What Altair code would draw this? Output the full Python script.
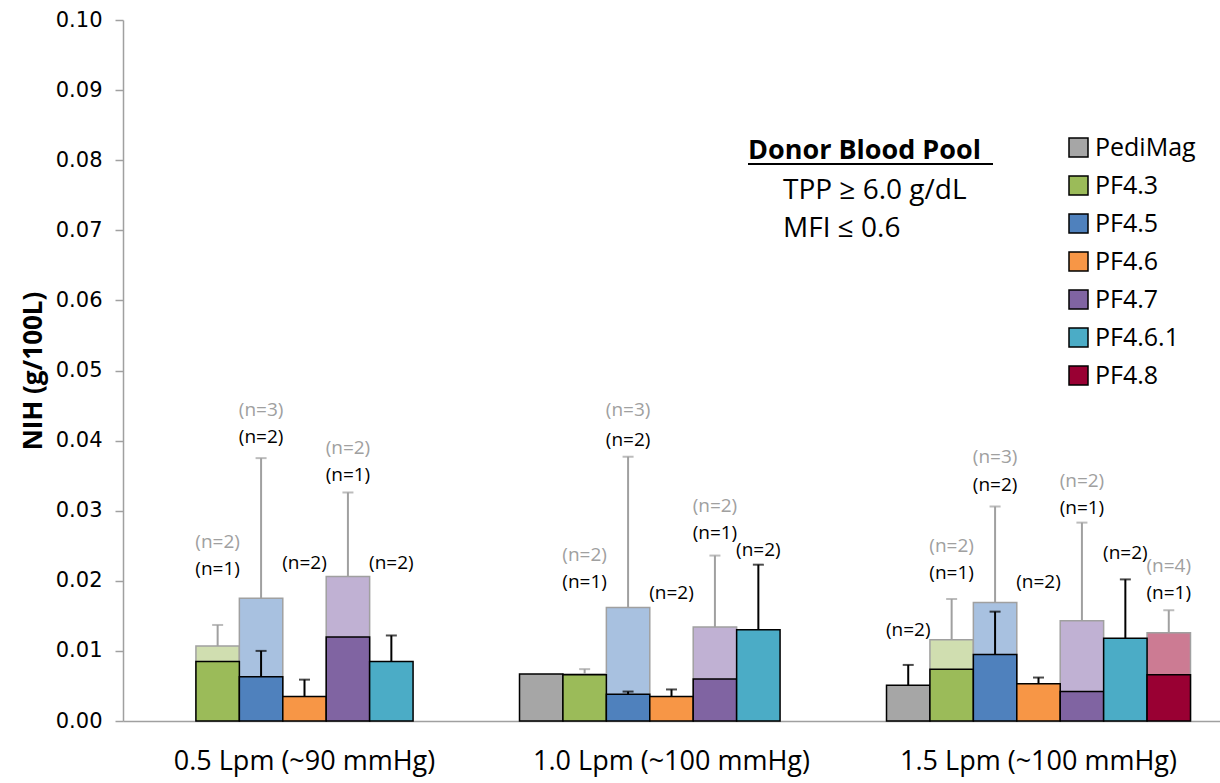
import altair as alt
import pandas as pd

groups = ["0.5 Lpm (~90 mmHg)", "1.0 Lpm (~100 mmHg)", "1.5 Lpm (~100 mmHg)"]
series = ["PediMag", "PF4.3", "PF4.5", "PF4.6", "PF4.7", "PF4.6.1", "PF4.8"]
dark_colors = ["#a6a6a6", "#9bbb59", "#4f81bd", "#f79646", "#8064a2", "#4bacc6", "#990033"]
light_colors = [None, "#d0deb0", "#a8c1e0", None, "#c0b1d3", None, "#cc7b93"]

# current (dark) bars
dark_vals = [
    [None, 0.0085, 0.0063, 0.0035, 0.0120, 0.0085, None],
    [0.0067, 0.0066, 0.0038, 0.0035, 0.0060, 0.0130, None],
    [0.0051, 0.0074, 0.0095, 0.0053, 0.0042, 0.0118, 0.0066],
]
dark_err_top = [
    [None, None, 0.0100, 0.0059, None, 0.0122, None],
    [None, None, 0.0042, 0.0045, None, 0.0223, None],
    [0.0080, None, 0.0156, 0.0062, None, 0.0202, None],
]
# earlier (light) bars
light_vals = [
    [None, 0.0107, 0.0175, None, 0.0206, None, None],
    [None, 0.0067, 0.0162, None, 0.0134, None, None],
    [None, 0.0116, 0.0169, None, 0.0143, None, 0.0126],
]
light_err_top = [
    [None, 0.0137, 0.0375, None, 0.0326, None, None],
    [None, 0.0074, 0.0377, None, 0.0236, None, None],
    [None, 0.0174, 0.0306, None, 0.0283, None, 0.0158],
]
# sample-size labels and the heights at which they sit (data units)
n_dark = [
    [None, "(n=1)", "(n=2)", "(n=2)", "(n=1)", "(n=2)", None],
    [None, "(n=1)", "(n=2)", "(n=2)", "(n=1)", "(n=2)", None],
    ["(n=2)", "(n=1)", "(n=2)", "(n=2)", "(n=1)", "(n=2)", "(n=1)"],
]
n_dark_at = [
    [None, 0.0217, 0.0405, 0.0225, 0.0351, 0.0225, None],
    [None, 0.0198, 0.0401, 0.0183, 0.0268, 0.0244, None],
    [0.0130, 0.0211, 0.0337, 0.0198, 0.0304, 0.0240, 0.0183],
]
n_light = [
    [None, "(n=2)", "(n=3)", None, "(n=2)", None, None],
    [None, "(n=2)", "(n=3)", None, "(n=2)", None, None],
    [None, "(n=2)", "(n=3)", None, "(n=2)", None, "(n=4)"],
]
n_light_at = [
    [None, 0.0256, 0.0444, None, 0.0390, None, None],
    [None, 0.0237, 0.0443, None, 0.0307, None, None],
    [None, 0.0249, 0.0376, None, 0.0342, None, 0.0221],
]

dark_rows, light_rows, derr_rows, lerr_rows, dlab_rows, llab_rows = [], [], [], [], [], []
for gi, g in enumerate(groups):
    for si, s in enumerate(series):
        if dark_vals[gi][si] is not None:
            dark_rows.append({"group": g, "series": s, "v": dark_vals[gi][si]})
            if dark_err_top[gi][si] is not None:
                derr_rows.append({"group": g, "series": s, "v": dark_vals[gi][si], "top": dark_err_top[gi][si]})
        if light_vals[gi][si] is not None:
            light_rows.append({"group": g, "series": s, "v": light_vals[gi][si], "lc": light_colors[si]})
            if light_err_top[gi][si] is not None:
                lerr_rows.append({"group": g, "series": s, "v": light_vals[gi][si], "top": light_err_top[gi][si]})
        if n_dark[gi][si] is not None:
            dlab_rows.append({"group": g, "series": s, "t": n_dark[gi][si], "at": n_dark_at[gi][si]})
        if n_light[gi][si] is not None:
            llab_rows.append({"group": g, "series": s, "t": n_light[gi][si], "at": n_light_at[gi][si]})

FONT = "Open Sans"
GRAY = "#a0a0a0"

X = alt.X("group:N", sort=groups, title=None,
          scale=alt.Scale(domain=groups, paddingInner=0.1717, paddingOuter=0.0804),
          axis=alt.Axis(labelFontSize=27, labelFont=FONT, labelColor="black", labelAngle=0,
                        labelLimit=0, ticks=False, labelPadding=27, domainColor=GRAY, domainWidth=1.5))
XO = alt.XOffset("series:N", sort=series, scale=alt.Scale(domain=series, paddingInner=0, paddingOuter=0))
Y = alt.Y("v:Q", scale=alt.Scale(domain=[0, 0.1], nice=False),
          axis=alt.Axis(title="NIH (g/100L)", titleFontSize=26, titleFont=FONT, titleFontWeight="bold",
                        titleColor="black", titlePadding=9, values=[i / 100 for i in range(11)],
                        format=".2f", labelFontSize=21, labelFont="DejaVu Sans", labelColor="black",
                        tickSize=8, tickColor=GRAY, tickWidth=1.5, labelPadding=13,
                        domainColor=GRAY, domainWidth=1.5, grid=False))

light = alt.Chart(pd.DataFrame(light_rows)).mark_bar(stroke=GRAY, strokeWidth=1.5).encode(
    x=X, xOffset=XO, y=Y, color=alt.Color("lc:N", scale=None))

dark = alt.Chart(pd.DataFrame(dark_rows)).mark_bar(stroke="black", strokeWidth=1.5).encode(
    x=X, xOffset=XO, y=Y,
    color=alt.Color("series:N", sort=series, scale=alt.Scale(domain=series, range=dark_colors),
                    legend=alt.Legend(title=None, orient="none", legendX=943, legendY=115,
                                      symbolType="square", symbolSize=361, symbolStrokeColor="black",
                                      symbolStrokeWidth=1.5, symbolOpacity=1, labelFontSize=25,
                                      labelFont=FONT, labelColor="black", labelOffset=4,
                                      rowPadding=12, padding=0)))

def err_layers(rows, color):
    base = alt.Chart(pd.DataFrame(rows))
    rule = base.mark_rule(color=color, strokeWidth=2).encode(
        x=X, xOffset=XO, y=alt.Y("v:Q"), y2="top:Q")
    cap = base.mark_tick(color=color, thickness=2, size=11).encode(
        x=X, xOffset=XO, y=alt.Y("top:Q"))
    return rule + cap

def label_layer(rows, color):
    return alt.Chart(pd.DataFrame(rows)).mark_text(
        color=color, fontSize=19, font=FONT, baseline="middle", align="center").encode(
        x=X, xOffset=XO, y=alt.Y("at:Q"), text="t:N")

one = pd.DataFrame({"k": [0]})
ann1 = alt.Chart(one).mark_text(text="Donor Blood Pool", font=FONT, fontSize=27, fontWeight="bold",
                                align="left", baseline="middle", color="black").encode(
    x=alt.value(625), y=alt.value(131))
ann_ul = alt.Chart(one).mark_rule(color="black", strokeWidth=2).encode(
    x=alt.value(625), x2=alt.value(870), y=alt.value(144))
ann2 = alt.Chart(one).mark_text(text="TPP \u2265 6.0 g/dL", font=FONT, fontSize=28,
                                align="left", baseline="middle", color="black").encode(
    x=alt.value(660), y=alt.value(171))
ann3 = alt.Chart(one).mark_text(text="MFI \u2264 0.6", font=FONT, fontSize=28,
                                align="left", baseline="middle", color="black").encode(
    x=alt.value(660), y=alt.value(209))

chart = alt.layer(
    light, dark,
    err_layers(lerr_rows, GRAY), err_layers(derr_rows, "black"),
    label_layer(llab_rows, GRAY), label_layer(dlab_rows, "black"),
    ann1, ann_ul, ann2, ann3,
).resolve_scale(color="independent").properties(
    width=1097, height=701,
    autosize=alt.AutoSizeParams(type="none"),
    padding={"left": 123, "top": 20, "right": 0, "bottom": 62},
    background="white",
).configure_view(stroke=None)

chart.save("out.html", embed_options={"renderer": "svg", "actions": False})
